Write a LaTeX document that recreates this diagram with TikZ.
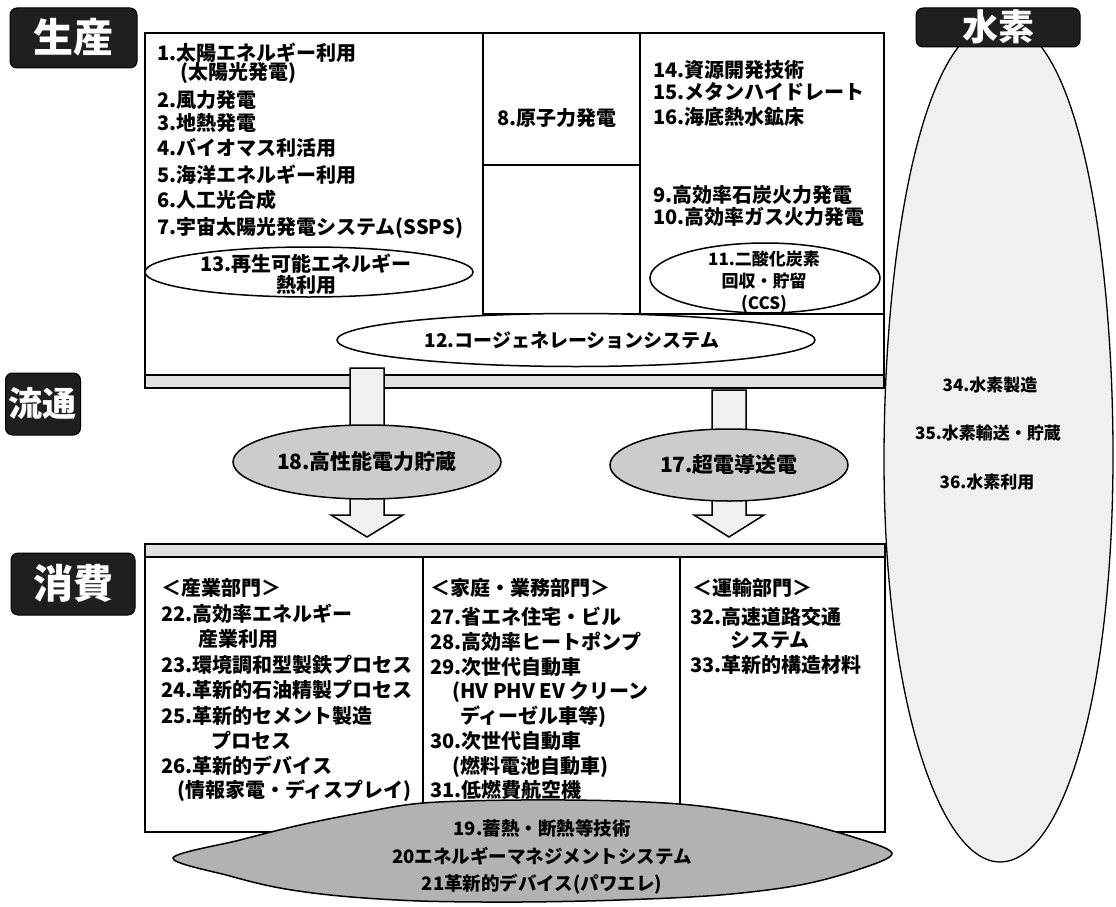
\documentclass[tikz,border=0pt]{standalone}
\usepackage{fontspec}
\setmainfont{Noto Sans CJK JP}
\usetikzlibrary{shapes.geometric}
\begin{document}
\begin{tikzpicture}[x=1pt,y=-1pt,
  frameline/.style={draw=black, line width=1.6pt},
  innerline/.style={draw=black, line width=1.1pt},
  bandfill/.style={fill=black!12},
  lbl/.style={fill=black!88, draw=black, line width=1pt, rounded corners=7pt, text=white, inner sep=0pt, font=\bfseries\fontsize{40}{40}\selectfont, text height=29.6pt, text depth=0pt},
  item/.style={anchor=west, inner sep=0pt, font=\bfseries\fontsize{20}{20}\selectfont, text height=14.8pt, text depth=0pt},
  small/.style={inner sep=0pt, font=\bfseries\fontsize{17}{17}\selectfont, text height=12.6pt, text depth=0pt},
  ellw/.style={ellipse, draw=black, line width=1.5pt, fill=white, inner sep=0pt},
  ellg/.style={ellipse, draw=black, line width=1.5pt, fill=black!20, inner sep=0pt},
  blockarrow/.style={draw=black, line width=1.5pt, fill=black!6, line join=miter},
]
\useasboundingbox (0,0) rectangle (1116,907);

% hydrogen ellipse
\coordinate (htop) at (1000,22);
\coordinate (hright) at (1113,455);
\coordinate (hbot) at (1000,862);
\coordinate (hleft) at (884,460);
\draw[black, line width=1.3pt, fill=black!6]
  (htop) .. controls (1078,22) and (1113,250) .. (hright)
  .. controls (1113,700) and (1062,862) .. (hbot)
  .. controls (940,862) and (884,700) .. (hleft)
  .. controls (884,250) and (922,22) .. (htop) -- cycle;

% production frame
\draw[frameline, fill=white] (145,33) rectangle (884,388);
\fill[bandfill] (145,375) rectangle (884,388);
\draw[frameline] (145,375) -- (884,375);
\draw[frameline] (145,33) rectangle (884,388);
\draw[innerline] (483,33) -- (483,314) -- (884,314);
\draw[innerline] (640,33) -- (640,314);
\draw[innerline] (483,165) -- (640,165);

% production ellipses
\node[ellw, minimum width=328pt, minimum height=50pt] (e13) at (309,272) {};
\node[ellw, minimum width=230pt, minimum height=70pt] (e11) at (765,278) {};
\node[ellw, minimum width=478pt, minimum height=53pt] (e12) at (576,340) {};

% consumption frame
\draw[frameline, fill=white] (145,544) rectangle (885,832);
\fill[bandfill] (145,544) rectangle (885,557);
\draw[frameline] (145,544) rectangle (885,832);
\draw[frameline] (145,557) -- (885,557);
\draw[innerline] (423,557) -- (423,832);
\draw[innerline] (680,557) -- (680,832);

% block arrows
\coordinate (a1) at (367,368);
\coordinate (a2) at (729,390);
\draw[blockarrow] (350,368) -- (384,368) -- (384,515) -- (403,515) -- (367,537) -- (331,515) -- (350,515) -- cycle;
\draw[blockarrow] (712,390) -- (746,390) -- (746,515) -- (764,515) -- (729,537) -- (694,515) -- (712,515) -- cycle;

% flow ellipses
\node[ellg, minimum width=268pt, minimum height=74pt] (e18) at (367,462) {};
\node[ellg, minimum width=238pt, minimum height=72pt] (e17) at (729,465) {};
\node[inner sep=0pt, font=\bfseries\fontsize{21}{21}\selectfont, text height=15.5pt, text depth=0pt] at (e18) {18.高性能電力貯蔵};
\node[inner sep=0pt, font=\bfseries\fontsize{21}{21}\selectfont, text height=15.5pt, text depth=0pt] at (e17) {17.超電導送電};

% bottom lens
\coordinate (e19) at (535,856);
\draw[black, line width=1.5pt, fill=black!30] plot[smooth cycle, tension=0.55] coordinates {
  (173,858) (240,840) (300,825) (360,813) (423,803) (520,800) (620,801) (700,806)
  (787,820) (850,836) (892,853) (860,869) (800,885) (720,895) (620,900) (520,902)
  (420,901) (340,896) (280,888) (230,876)};
\node[inner sep=0pt, align=center, font=\bfseries\fontsize{18.5}{27.5}\selectfont] at (542,857) {19.蓄熱・断熱等技術\\20エネルギーマネジメントシステム\\21革新的デバイス(パワエレ)};

% section labels
\node[lbl, minimum width=127pt, minimum height=60pt] (lp) at (73.5,38) {生産};
\node[lbl, minimum width=164pt, minimum height=39pt, font=\bfseries\fontsize{36}{36}\selectfont, text height=26.6pt] (lh) at (998,27.5) {水素};
\node[lbl, minimum width=75pt, minimum height=62pt, font=\bfseries\fontsize{34}{34}\selectfont, text height=25.2pt] (lf) at (43,404) {流通};
\node[lbl, minimum width=124pt, minimum height=62pt] (lc) at (73,584) {消費};

% production texts
\node[item] (t1) at (157,53) {1.太陽エネルギー利用};
\node[item] (t1b) at (180,72) {(太陽光発電)};
\node[item] (t2) at (157,100) {2.風力発電};
\node[item] (t3) at (157,123) {3.地熱発電};
\node[item] (t4) at (157,148) {4.バイオマス利活用};
\node[item] (t5) at (157,175) {5.海洋エネルギー利用};
\node[item] (t6) at (157,200) {6.人工光合成};
\node[item] (t7) at (157,227) {7.宇宙太陽光発電システム(SSPS)};
\node[item] (t8) at (497,118) {8.原子力発電};
\node[item] (t14) at (653,70) {14.資源開発技術};
\node[item] (t15) at (653,92) {15.メタンハイドレート};
\node[item] (t16) at (653,117) {16.海底熱水鉱床};
\node[item] (t9) at (653,195) {9.高効率石炭火力発電};
\node[item] (t10) at (653,217) {10.高効率ガス火力発電};
\node[inner sep=0pt, align=center, font=\bfseries\fontsize{20}{21}\selectfont] at (306,274) {13.再生可能エネルギー\\熱利用};
\node[inner sep=0pt, align=center, font=\bfseries\fontsize{17}{22}\selectfont] at (764,282) {11.二酸化炭素\\回収・貯留\\(CCS)};
\node[inner sep=0pt, font=\bfseries\fontsize{19}{19}\selectfont, text height=14pt, text depth=0pt] at (572,340) {12.コージェネレーションシステム};

% hydrogen texts
\node[small] (t34) at (990,385) {34.水素製造};
\node[small] (t35) at (988,433) {35.水素輸送・貯蔵};
\node[small] (t36) at (987,482) {36.水素利用};

% consumption texts
\node[item] (c0) at (161,588) {＜産業部門＞};
\node[item] (c22) at (161,614) {22.高効率エネルギー};
\node[item] (c22b) at (198,639) {産業利用};
\node[item] (c23) at (161,665) {23.環境調和型製鉄プロセス};
\node[item] (c24) at (161,690) {24.革新的石油精製プロセス};
\node[item] (c25) at (161,716) {25.革新的セメント製造};
\node[item] (c25b) at (211,741) {プロセス};
\node[item] (c26) at (161,766) {26.革新的デバイス};
\node[item] (c26b) at (177,790) {(情報家電・ディスプレイ)};

\node[item] (d0) at (430,588) {＜家庭・業務部門＞};
\node[item] (c27) at (430,617) {27.省エネ住宅・ビル};
\node[item] (c28) at (430,642) {28.高効率ヒートポンプ};
\node[item] (c29) at (430,667) {29.次世代自動車};
\node[item] (c29b) at (452,691) {(HV PHV EV クリーン};
\node[item] (c29c) at (460,716) {ディーゼル車等)};
\node[item] (c30) at (430,741) {30.次世代自動車};
\node[item] (c30b) at (452,766) {(燃料電池自動車)};
\node[item] (c31) at (430,790) {31.低燃費航空機};

\node[item] (r0) at (692,588) {＜運輸部門＞};
\node[item] (c32) at (690,617) {32.高速道路交通};
\node[item] (c32b) at (730,640) {システム};
\node[item] (c33) at (690,665) {33.革新的構造材料};
\end{tikzpicture}
\end{document}
